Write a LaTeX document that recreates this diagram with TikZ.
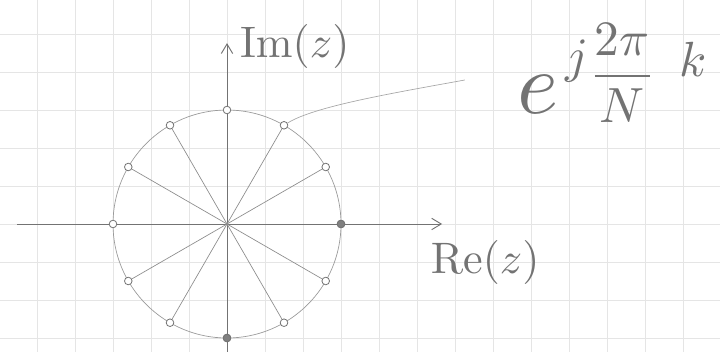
\documentclass[tikz,border=0pt]{standalone}
\usepackage{amsmath,amssymb}
\usepackage{tikz}
\usetikzlibrary{arrows.meta,positioning}

\begin{document}
\begin{tikzpicture}[
  pen/.style={draw=black!55,line width=0.7pt},
  spoke/.style={draw=black!45,line width=0.5pt},
  dot/.style={circle,draw=black!55,fill=white,minimum size=2mm,inner sep=0pt,line width=0.6pt},
  dotf/.style={dot,fill=black!50},
  lab/.style={text=black!55,inner sep=0pt,scale=3.3},
  frm/.style={text=black!55,inner sep=0pt,scale=6.6},
  sup/.style={text=black!55,inner sep=0pt,scale=3.7}]
 \useasboundingbox (-5.974,-3.368) rectangle (12.974,5.895);
 \fill[white] (-5.974,-3.368) rectangle (12.974,5.895);
 \draw[black!10,line width=0.5pt] (-5.974,-3.368) grid (12.974,5.895);
 % axes
 \coordinate (o) at (0,0);
 \coordinate (xs) at (-5.53,0);
 \coordinate (xe) at (5.66,0);
 \coordinate (ys) at (0,-3.368);
 \coordinate (ye) at (0,4.76);
 \draw[pen,-{Straight Barb[length=2.5mm,width=3mm]}] (xs) -- (xe);
 \draw[pen,-{Straight Barb[length=2.5mm,width=3mm]}] (ys) -- (ye);
 \draw[black!40,line width=0.5pt] (o) circle (3);
 % roots on the unit circle
 \foreach \k in {0,...,11}
   \node[dot] (p\k) at (\k*30:3) {};
 \node[dotf] at (p0) {};
 \node[dotf] at (p9) {};
 \foreach \k in {1,2,4,5,7,8,10,11}
   \draw[spoke] (o) -- (p\k);
 \node[lab,anchor=west] (im) at (0.32,4.66) {$\mathrm{Im}(z)$};
 \node[lab,anchor=north west] (re) at (5.34,-0.42) {$\mathrm{Re}(z)$};
 % e^{j 2pi/N k}, pieces set by hand
 \node[frm,anchor=base] (ee) at (8.18,2.92) {$e$};
 \node[sup] (ej) at (9.2,4.3) {$j$};
 \node[sup] (efrac) at (10.4,3.98) {$\dfrac{2\pi}{N}$};
 \node[sup] (ek) at (12.26,4.34) {$k$};
 \coordinate (tail) at (6.26,3.79);
 \draw[black!35,line width=0.5pt] (p2) .. controls (2.3,3.1) and (4.4,3.45) .. (tail);
\end{tikzpicture}
\end{document}
